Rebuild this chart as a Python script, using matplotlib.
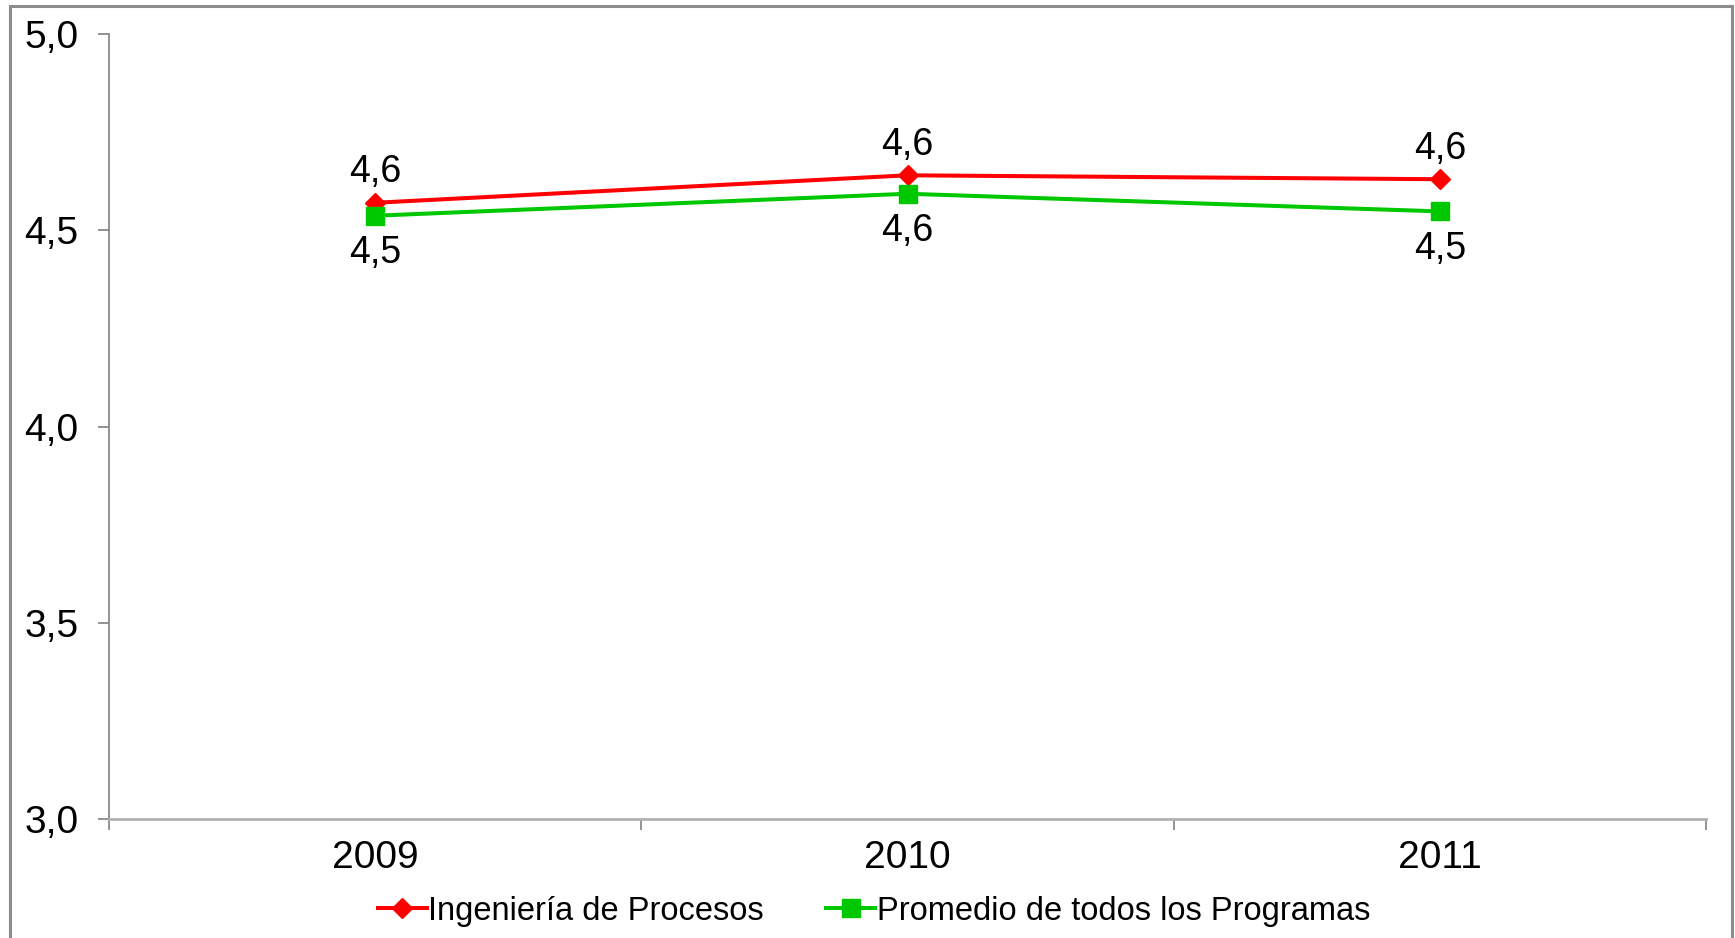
import matplotlib
matplotlib.use("Agg")
import matplotlib.pyplot as plt
from matplotlib.patches import Rectangle
from matplotlib.ticker import FixedLocator, NullFormatter

plt.rcParams['font.family'] = ['Liberation Sans', 'DejaVu Sans']

years = ["2009", "2010", "2011"]
ingenieria = [4.57, 4.64, 4.63]
promedio = [4.537, 4.593, 4.548]
series_names = ["Ingeniería de Procesos", "Promedio de todos los Programas"]
yticks = [3.0, 3.5, 4.0, 4.5, 5.0]

W, H = 1735, 938
fig = plt.figure(figsize=(W / 100, H / 100), dpi=100)
ax = fig.add_axes([109 / W, 1 - 819 / H, (1706 - 109) / W, (819 - 34) / H])

x = list(range(len(years)))
ax.plot(x, ingenieria, color="#FF0000", lw=2.9, marker="D", ms=10, label=series_names[0], zorder=3)
ax.plot(x, promedio, color="#00C800", lw=2.9, marker="s", ms=13, label=series_names[1], zorder=3)

for xi, v in zip(x, ingenieria):
    ax.annotate(f"{v:.1f}".replace(".", ","), (xi, v), xytext=(0, 22), textcoords="offset points",
                ha="center", va="center", fontsize=27)
for xi, v in zip(x, promedio):
    ax.annotate(f"{v:.1f}".replace(".", ","), (xi, v), xytext=(0, -27), textcoords="offset points",
                ha="center", va="center", fontsize=27)

ax.set_xlim(-0.5, len(years) - 0.5)
ax.set_ylim(3.0, 5.0)
ax.set_yticks(yticks)
ax.set_yticklabels([f"{t:.1f}".replace(".", ",") for t in yticks], fontsize=28)
ax.xaxis.set_major_locator(FixedLocator([-0.5, 0.5, 1.5, 2.5]))
ax.xaxis.set_major_formatter(NullFormatter())
ax.xaxis.set_minor_locator(FixedLocator(x))
ax.set_xticklabels(years, minor=True, fontsize=28)
ax.tick_params(axis="x", which="minor", length=0, pad=15)
ax.tick_params(axis="x", which="major", length=8, width=1.2, color="#808080", direction="out")
ax.tick_params(axis="y", length=8, width=1.2, color="#808080", pad=14)

for s in ["top", "right"]:
    ax.spines[s].set_visible(False)
ax.spines["left"].set_color("#808080")
ax.spines["left"].set_linewidth(1.2)
ax.spines["bottom"].set_color("#B0B0B0")
ax.spines["bottom"].set_linewidth(2)

leg = fig.legend(loc="center", bbox_to_anchor=(874 / W, 1 - 911 / H), ncol=2, frameon=False,
                 fontsize=23.5, handlelength=1.5, handletextpad=0.05, columnspacing=1.9, markerscale=1.0)

border = Rectangle((10 / W, -0.05), (1732 - 10) / W, 1.05 - 6 / H, transform=fig.transFigure,
                   fill=False, edgecolor="#8C8C8C", lw=2.2)
fig.patches.append(border)

fig.savefig("out.png", dpi=100, facecolor="white")
